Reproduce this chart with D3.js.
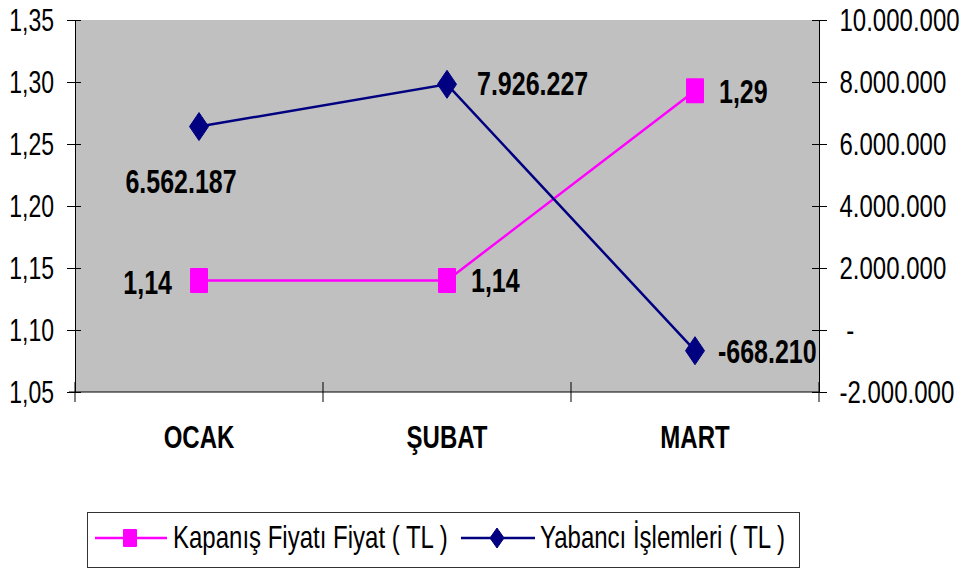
<!DOCTYPE html>
<html>
<head>
<meta charset="utf-8">
<script src="https://cdn.jsdelivr.net/npm/d3@7"></script>
<style>
  html, body { margin: 0; padding: 0; background: #fff; }
  svg { display: block; font-family: "Liberation Sans", Arial, sans-serif; }
</style>
</head>
<body>
<svg id="chart" width="969" height="571"></svg>
<script>
// ---- data ----
const categories = ["OCAK", "ŞUBAT", "MART"];
const kapanisValues = [1.14, 1.14, 1.293];
const yabanciValues = [6562187, 7926227, -668210];
const leftTicks = [1.05, 1.10, 1.15, 1.20, 1.25, 1.30, 1.35];
const rightTicks = [-2000000, 0, 2000000, 4000000, 6000000, 8000000, 10000000];
const seriesNames = ["Kapanış Fiyatı Fiyat ( TL )", "Yabancı İşlemleri ( TL )"];

// ---- setup ----
const tr = d3.formatLocale({decimal: ",", thousands: ".", grouping: [3], currency: ["", ""], minus: "-"});
const fmtLeft = tr.format(".2f");
const fmtInt = tr.format(",.0f");
const fmtRight = v => v === 0 ? "\u00A0-" : fmtInt(v);

const svg = d3.select("#chart");
const M = {left: 75, right: 819, top: 20, bottom: 392};
const SY = 1.3;   // vertical stretch of the text

const x = d3.scaleBand().domain(categories).range([M.left, M.right]);
const cx = c => x(c) + x.bandwidth() / 2;
const yL = d3.scaleLinear().domain([1.05, 1.35]).range([M.bottom, M.top]);
const yR = d3.scaleLinear().domain([-2000000, 10000000]).range([M.bottom, M.top]);

// text helper: x, vertical centre, size, anchor, weight
function label(g, str, tx, cy, fs, anchor, weight, sy) {
  const s = sy || SY;
  const base = cy + 0.358 * fs * s;
  g.append("g").attr("transform", `translate(${tx},${base}) scale(1,${s})`)
    .append("text").attr("x", 0).attr("y", 0)
    .attr("text-anchor", anchor).attr("font-size", fs)
    .attr("font-weight", weight || "normal").attr("fill", "#000")
    .text(str);
}

// plot area
svg.append("rect").attr("x", M.left).attr("y", M.top)
  .attr("width", M.right - M.left).attr("height", M.bottom - M.top)
  .attr("fill", "#c0c0c0");

// left axis
const gL = svg.append("g").attr("transform", `translate(${M.left},0)`)
  .call(d3.axisLeft(yL).tickValues(leftTicks).tickFormat("").tickSizeOuter(0).tickSize(8));
gL.select(".domain").attr("stroke", "#000");
gL.selectAll(".tick line").attr("x1", 6).attr("x2", -8).attr("stroke", "#000");
leftTicks.forEach(v => label(svg, fmtLeft(v), 54, yL(v), 23, "end", "normal", 1.36));

// right axis
const gR = svg.append("g").attr("transform", `translate(${M.right},0)`)
  .call(d3.axisRight(yR).tickValues(rightTicks).tickFormat("").tickSizeOuter(0).tickSize(8));
gR.select(".domain").attr("stroke", "#000");
gR.selectAll(".tick line").attr("x1", -7).attr("x2", 8).attr("stroke", "#000");
rightTicks.forEach(v => label(svg, fmtRight(v), 839.5, yR(v), 24, "start", "normal", 1.32));

// bottom axis
const catEdges = categories.map(c => x(c)).concat([M.right]);
svg.append("line").attr("x1", M.left - 6).attr("x2", M.right)
  .attr("y1", M.bottom).attr("y2", M.bottom).attr("stroke", "#000");
svg.selectAll(".cattick").data(catEdges).enter().append("line")
  .attr("x1", d => d).attr("x2", d => d)
  .attr("y1", M.bottom - 10).attr("y2", M.bottom + 10).attr("stroke", "#000");
categories.forEach(c => label(svg, c, cx(c), 437, 24, "middle", "bold"));

// series lines
const pink = "#ff00ff", navy = "#000080";
const lineK = d3.line().x((d, i) => cx(categories[i])).y(d => yL(d));
const lineY = d3.line().x((d, i) => cx(categories[i])).y(d => yR(d));
svg.append("path").attr("d", lineK(kapanisValues)).attr("fill", "none")
  .attr("stroke", pink).attr("stroke-width", 2.5);
svg.append("path").attr("d", lineY(yabanciValues)).attr("fill", "none")
  .attr("stroke", navy).attr("stroke-width", 2.5);

// markers
function square(g, px, py, w, h) {
  g.append("rect").attr("x", px - w / 2).attr("y", py - h / 2)
    .attr("width", w).attr("height", h).attr("fill", pink).attr("rx", 1);
}
function diamond(g, px, py, w, h) {
  g.append("path").attr("d", `M${px},${py - h / 2}L${px + w / 2},${py}L${px},${py + h / 2}L${px - w / 2},${py}Z`)
    .attr("fill", navy).attr("stroke", navy).attr("stroke-width", 1).attr("stroke-linejoin", "round");
}
kapanisValues.forEach((v, i) => square(svg, cx(categories[i]), yL(v), 18, 25));
yabanciValues.forEach((v, i) => diamond(svg, cx(categories[i]), yR(v), 19, 28));

// data labels
const kPlace = [{dx: -27, dy: 2, a: "end"}, {dx: 24, dy: 0, a: "start"}, {dx: 24, dy: 1, a: "start"}];
const yPlace = [{dx: -18, dy: 55, a: "middle"}, {dx: 30, dy: -1, a: "start"}, {dx: 23, dy: 1, a: "start"}];
kapanisValues.forEach((v, i) => {
  const p = kPlace[i];
  label(svg, fmtLeft(v), cx(categories[i]) + p.dx, yL(v) + p.dy, 25, p.a, "bold");
});
yabanciValues.forEach((v, i) => {
  const p = yPlace[i];
  label(svg, fmtInt(v), cx(categories[i]) + p.dx, yR(v) + p.dy, 25, p.a, "bold");
});

// legend
const lg = svg.append("g");
lg.append("rect").attr("x", 87.5).attr("y", 512.5).attr("width", 712).attr("height", 55)
  .attr("fill", "#fff").attr("stroke", "#333").attr("stroke-width", 1);
const legY = 538;
lg.append("line").attr("x1", 95).attr("x2", 167).attr("y1", legY).attr("y2", legY)
  .attr("stroke", pink).attr("stroke-width", 2.5);
square(lg, 130, legY, 14, 18);
label(lg, seriesNames[0], 173, legY - 1, 24, "start");
lg.append("line").attr("x1", 461).attr("x2", 535).attr("y1", legY).attr("y2", legY)
  .attr("stroke", navy).attr("stroke-width", 2.5);
diamond(lg, 497, legY, 14, 20);
label(lg, seriesNames[1], 540, legY - 1, 24, "start");
</script>
</body>
</html>
